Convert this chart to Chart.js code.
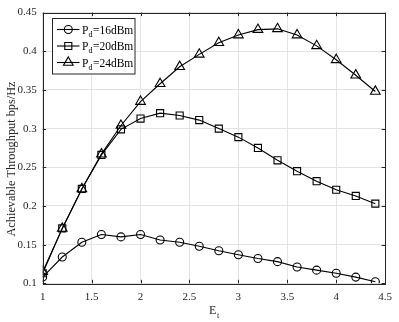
<!DOCTYPE html>
<html>
<head>
<meta charset="utf-8">
<script src="https://cdn.jsdelivr.net/npm/chart.js@4/dist/chart.umd.min.js"></script>
<style>
  html, body { margin: 0; padding: 0; background: #ffffff; }
  #wrap { width: 399px; height: 322px; }
</style>
</head>
<body>
<div id="wrap"><canvas id="c" width="399" height="322"></canvas></div>
<script>
// ---- data ----
const eT = [1, 1.2, 1.4, 1.6, 1.8, 2, 2.2, 2.4, 2.6, 2.8, 3, 3.2, 3.4, 3.6, 3.8, 4, 4.2, 4.4];
const pd16 = [0.108, 0.134, 0.153, 0.163, 0.160, 0.163, 0.156, 0.153, 0.148, 0.142, 0.137, 0.132, 0.128, 0.121, 0.117, 0.113, 0.108, 0.102];
const pd20 = [0.113, 0.171, 0.222, 0.266, 0.299, 0.313, 0.320, 0.317, 0.311, 0.300, 0.289, 0.275, 0.259, 0.245, 0.232, 0.221, 0.213, 0.203];
const pd24 = [0.115, 0.171, 0.222, 0.267, 0.304, 0.335, 0.358, 0.380, 0.396, 0.411, 0.421, 0.428, 0.429, 0.421, 0.407, 0.389, 0.369, 0.348];
const seriesNames = ['16dBm', '20dBm', '24dBm'];
const seriesMarkers = ['circle', 'rect', 'triangle'];
const xTicks = [1, 1.5, 2, 2.5, 3, 3.5, 4, 4.5];
const yTicks = [0.1, 0.15, 0.2, 0.25, 0.3, 0.35, 0.4, 0.45];
const xTitleMain = 'E';
const xTitleSub = 't';
const yTitle = 'Achievable Throughput bps/Hz';

const FONT = '"Liberation Serif", "Times New Roman", serif';
const markerRadius = { circle: 4, rect: 5, triangle: 5.6 };

function mk(values) { return eT.map((x, i) => ({ x: x, y: values[i] })); }
const allSeries = [pd16, pd20, pd24];

const datasets = allSeries.map((vals, i) => ({
  label: 'Pd=' + seriesNames[i],
  data: mk(vals),
  borderColor: '#000000',
  backgroundColor: 'rgba(0,0,0,0)',
  borderWidth: 1.1,
  pointStyle: seriesMarkers[i],
  pointRadius: markerRadius[seriesMarkers[i]],
  pointBorderWidth: 1.1,
  pointBorderColor: '#000000',
  pointBackgroundColor: 'rgba(0,0,0,0)',
  tension: 0
}));

const decor = {
  id: 'decor',
  afterDraw(chart) {
    const ctx = chart.ctx;
    const a = chart.chartArea;
    const xs = chart.scales.x, ys = chart.scales.y;
    ctx.save();
    // box
    ctx.strokeStyle = '#262626';
    ctx.lineWidth = 1;
    ctx.strokeRect(Math.round(a.left) + 0.5, Math.round(a.top) + 0.5,
                   Math.round(a.right - a.left), Math.round(a.bottom - a.top));
    // inward ticks
    ctx.beginPath();
    const tl = 3.5;
    xTicks.forEach(v => {
      const px = Math.round(xs.getPixelForValue(v)) + 0.5;
      ctx.moveTo(px, a.bottom); ctx.lineTo(px, a.bottom - tl);
      ctx.moveTo(px, a.top); ctx.lineTo(px, a.top + tl);
    });
    yTicks.forEach(v => {
      const py = Math.round(ys.getPixelForValue(v)) + 0.5;
      ctx.moveTo(a.left, py); ctx.lineTo(a.left + tl, py);
      ctx.moveTo(a.right, py); ctx.lineTo(a.right - tl, py);
    });
    ctx.stroke();

    // x title with subscript
    ctx.fillStyle = '#262626';
    ctx.textBaseline = 'alphabetic';
    ctx.font = '12px ' + FONT;
    const cx = (a.left + a.right) / 2;
    const wMain = ctx.measureText(xTitleMain).width;
    ctx.font = '8.5px ' + FONT;
    const wSub = ctx.measureText(xTitleSub).width;
    const startX = cx - (wMain + wSub) / 2;
    ctx.font = '12px ' + FONT;
    ctx.textAlign = 'left';
    ctx.fillText(xTitleMain, startX, 313.5);
    ctx.font = '8.5px ' + FONT;
    ctx.fillText(xTitleSub, startX + wMain + 0.5, 317.5);

    // y title
    ctx.save();
    ctx.translate(12, 159);
    ctx.rotate(-Math.PI / 2);
    ctx.font = '12.3px ' + FONT;
    ctx.textAlign = 'center';
    ctx.textBaseline = 'middle';
    ctx.fillText(yTitle, 0, 0);
    ctx.restore();

    // legend
    const lx = 52.5, ly = 18.5, lw = 82.5, lh = 55.5;
    ctx.fillStyle = '#ffffff';
    ctx.fillRect(lx, ly, lw, lh);
    ctx.strokeStyle = '#262626';
    ctx.lineWidth = 1;
    ctx.strokeRect(lx, ly, lw, lh);
    const rows = [29.5, 46, 62.5];
    chart.data.datasets.forEach((ds, i) => {
      const y = rows[i];
      ctx.strokeStyle = '#000';
      ctx.lineWidth = 1.1;
      ctx.beginPath();
      ctx.moveTo(57, y); ctx.lineTo(79.5, y);
      ctx.stroke();
      ctx.fillStyle = 'rgba(0,0,0,0)';
      Chart.helpers.drawPoint(ctx, {
        pointStyle: ds.pointStyle, radius: ds.pointRadius, borderWidth: 1.1, rotation: 0
      }, 68.3, y);
      ctx.fillStyle = '#000';
      ctx.textAlign = 'left';
      ctx.textBaseline = 'alphabetic';
      ctx.font = '11.5px ' + FONT;
      ctx.fillText('P', 82, y + 4);
      const wp = ctx.measureText('P').width;
      ctx.font = '8px ' + FONT;
      ctx.fillText('d', 82 + wp, y + 7);
      const wd = ctx.measureText('d').width;
      ctx.font = '11.5px ' + FONT;
      ctx.fillText('=' + seriesNames[i], 82 + wp + wd + 0.5, y + 4);
    });
    ctx.restore();
  }
};

new Chart(document.getElementById('c'), {
  type: 'line',
  data: { datasets: datasets },
  options: {
    responsive: false,
    animation: false,
    devicePixelRatio: 1,
    layout: { padding: { top: 9, right: 10, left: 0, bottom: 0 } },
    plugins: { legend: { display: false }, tooltip: { enabled: false } },
    scales: {
      x: {
        type: 'linear', min: 1, max: 4.5,
        afterBuildTicks(s) { s.ticks = xTicks.map(v => ({ value: v })); },
        afterFit(s) { s.height = 38.7; },
        grid: { color: '#e3e3e3', lineWidth: 1, drawTicks: false },
        border: { display: false },
        ticks: {
          padding: 7, color: '#262626',
          font: { family: FONT, size: 11 },
          maxRotation: 0, autoSkip: false,
          callback: v => String(Number(v.toFixed(2)))
        }
      },
      y: {
        type: 'linear', min: 0.1, max: 0.45,
        afterBuildTicks(s) { s.ticks = yTicks.map(v => ({ value: v })); },
        afterFit(s) { s.width = 42.7; },
        grid: { color: '#e3e3e3', lineWidth: 1, drawTicks: false },
        border: { display: false },
        ticks: {
          padding: 6, color: '#262626',
          font: { family: FONT, size: 11 },
          autoSkip: false,
          callback: v => String(Number(v.toFixed(2)))
        }
      }
    }
  },
  plugins: [decor]
});
</script>
</body>
</html>
